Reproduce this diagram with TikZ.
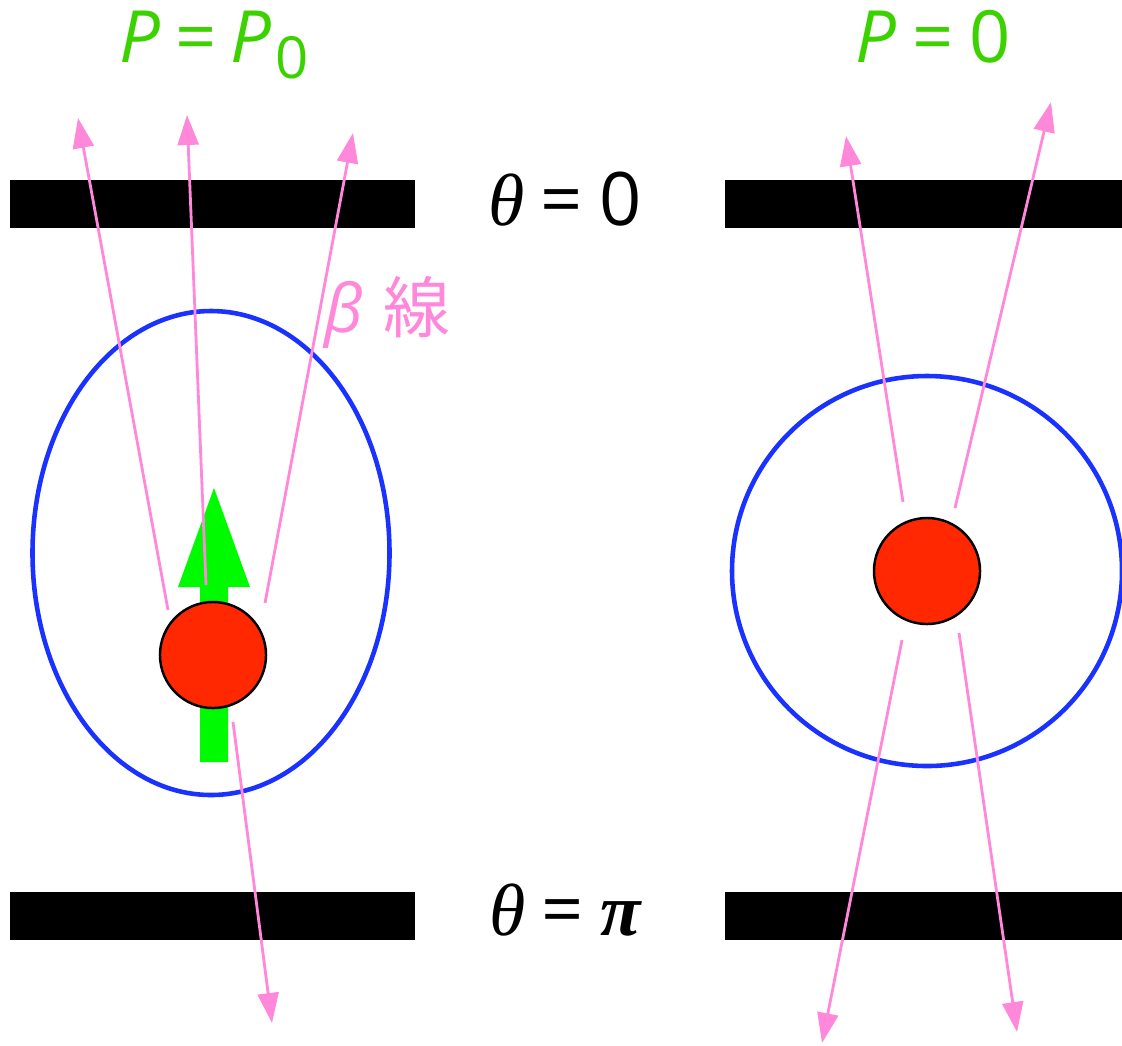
\documentclass[tikz,border=0pt]{standalone}
\usepackage{fontspec}
\setmainfont{Open Sans}
\newfontfamily\cjk{Noto Sans CJK JP}
\newfontfamily\thfont{Liberation Serif}
\usetikzlibrary{arrows.meta}
\definecolor{raypink}{RGB}{255,136,218}
\definecolor{lblgreen}{RGB}{60,210,0}
\definecolor{spingreen}{RGB}{0,250,0}
\definecolor{nucred}{RGB}{255,40,0}
\definecolor{orbblue}{RGB}{25,50,255}
\tikzset{
  plate/.style={fill=black},
  ray/.style={raypink,line width=0.8pt,-{Triangle[length=3mm,width=2.1mm]}},
  orbit/.style={draw=orbblue,line width=1.3pt},
  nucl/.style={circle,draw=black,line width=0.7pt,fill=nucred,minimum size=1.06cm,inner sep=0pt},
  plbl/.style={text=lblgreen,font=\fontsize{20.5}{24}\selectfont,inner sep=0pt,anchor=base},
  thlbl/.style={font=\fontsize{21}{24}\selectfont,inner sep=0pt,anchor=base},
}

\begin{document}
\begin{tikzpicture}[x=0.01cm,y=-0.01cm]
  \useasboundingbox (0,0) rectangle (1122,1045);
  % plates
  \fill[plate] (10,180) rectangle (415,228);
  \fill[plate] (725,180) rectangle (1122,228);
  \fill[plate] (10,892) rectangle (415,940);
  \fill[plate] (725,892) rectangle (1122,940);
  % electron clouds
  \draw[orbit] (211,553) ellipse [x radius=178.5,y radius=242];
  \draw[orbit] (927,571) circle [radius=195];
  % spin arrow
  \fill[spingreen] (200,762) -- (228,762) -- (228,587) -- (250,587)
    -- (214,488) -- (178,587) -- (200,587) -- cycle;
  \node[nucl] (nucA) at (213,655) {};
  \node[nucl] (nucB) at (927,571) {};
  % beta rays
  \foreach \n/\sx/\sy/\ex/\ey in {a1/168/610/78/118, a2/206/585/187/115,
      a3/265/603/353/133, a4/233/722/272/1023, b1/903/502/846/136,
      b2/955/508/1051/102, b3/902/640/822/1043, b4/959/633/1017/1032}{
    \coordinate (s\n) at (\sx,\sy);
    \coordinate (e\n) at (\ex,\ey);
    \draw[ray] (s\n) -- (e\n);
  }
  \node[plbl] (polA) at (214,62) {\itshape P\kern0.2em\upshape=\kern0.2em\itshape P\kern1pt\upshape\raisebox{-0.16cm}{\fontsize{16.5}{18}\selectfont 0}};
  \node[plbl] (polB) at (933,62) {\itshape P\kern0.22em\upshape=\kern0.22em0};
  \node[thlbl] (thtop) at (565,225) {{\thfont\itshape θ}\kern0.22em=\kern0.22em0};
  \node[thlbl] (thbot) at (565,935) {{\thfont\itshape θ}\kern0.22em=\kern0.22em{\thfont\bfseries\itshape π}};
  \node[text=raypink,font=\fontsize{19}{22}\selectfont,inner sep=0pt,anchor=base] (beta) at (387,332) {\itshape β\upshape\kern0.3em{\cjk 線}};
\end{tikzpicture}
\end{document}
